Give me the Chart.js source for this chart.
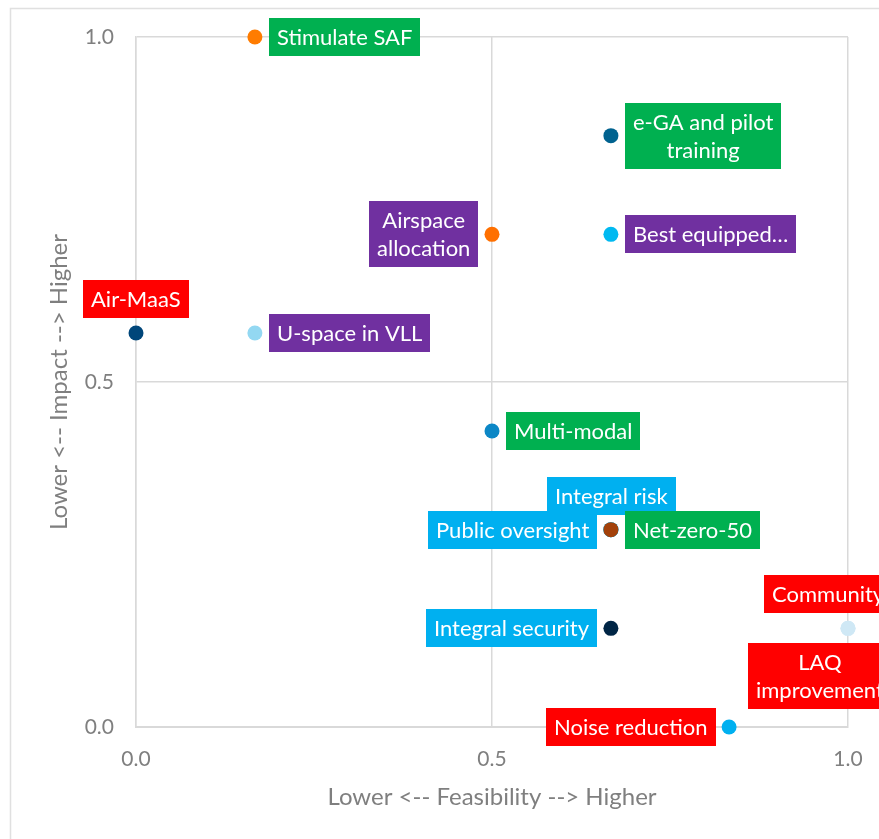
<!DOCTYPE html>
<html>
<head>
<meta charset="utf-8">
<title>Feasibility vs Impact</title>
<script src="https://cdn.jsdelivr.net/npm/chart.js@4/dist/chart.umd.min.js"></script>
<style>
  html, body { margin: 0; padding: 0; background: #ffffff; overflow: hidden; }
  canvas { display: block; }
</style>
</head>
<body>
<canvas id="chart" width="879" height="839"></canvas>
<script>
// Measures, with their feasibility (x) and impact (y) scores
const projects = [
  'Stimulate SAF',
  ['e-GA and pilot', 'training'],
  'Best equipped…',
  ['Airspace', 'allocation'],
  'Air-MaaS',
  'U-space in VLL',
  'Multi-modal',
  'Integral risk',
  'Public oversight',
  'Net-zero-50',
  'Integral security',
  ['LAQ', 'improvement'],
  'Community',
  'Noise reduction'
];
const feasibility = [0.167, 0.667, 0.667, 0.5, 0.0, 0.167, 0.5, 0.667, 0.667, 0.667, 0.667, 1.0, 1.0, 0.833];
const impact      = [1.0, 0.857, 0.714, 0.714, 0.571, 0.571, 0.429, 0.286, 0.286, 0.286, 0.143, 0.143, 0.143, 0.0];
const themes      = ['green', 'green', 'purple', 'purple', 'red', 'purple', 'green', 'blue', 'blue', 'green', 'blue', 'red', 'red', 'red'];

// Axis ticks
const tickValues = [0, 0.5, 1.0];
const tickLabels = ['0.0', '0.5', '1.0'];
const xTitle = 'Lower <-- Feasibility --> Higher';
const yTitle = 'Lower <-- Impact --> Higher';

// Styling
const pointColors = ['#ff7c00', '#00628f', '#00b9f1', '#ff7000', '#00467a', '#93d8f2', '#0c87c6',
                     '#00b0f0', '#00b0f0', '#a3410a', '#002545', '#cfe8f5', '#cfe8f5', '#00b0f0'];
const labelSides  = ['right', 'right', 'right', 'left', 'above', 'right', 'right', 'above', 'left',
                     'right', 'left', 'below', 'above', 'left'];
const themeFill = { green: '#00b050', purple: '#7030a0', red: '#ff0000', blue: '#00b0f0' };
const FONT_FAMILY = 'Lato, "Open Sans", sans-serif';
const LABEL_FONT = '22px ' + FONT_FAMILY;
const LABEL_PAD_X = 8, LABEL_PAD_Y = 5, LABEL_LINE = 28, LABEL_GAP = 14;
const LABEL_MAX_RIGHT = 892;   // labels are kept inside the chart frame
const GRID = '#d9d9d9';
const TEXT_GREY = '#7f7f7f';

// Light frame round the whole chart
const framePlugin = {
  id: 'frame',
  beforeDraw(chart) {
    const ctx = chart.ctx;
    ctx.save();
    ctx.fillStyle = '#ffffff';
    ctx.fillRect(0, 0, chart.width, chart.height);
    ctx.strokeStyle = '#e0e0e0';
    ctx.lineWidth = 1.5;
    ctx.strokeRect(10.5, 8.5, chart.width + 20, chart.height + 20);
    ctx.restore();
  }
};

// Coloured text boxes beside each point
const boxLabelPlugin = {
  id: 'boxLabels',
  afterDatasetsDraw(chart) {
    const ctx = chart.ctx;
    const meta = chart.getDatasetMeta(0);
    ctx.save();
    ctx.font = LABEL_FONT;
    ctx.textAlign = 'center';
    ctx.textBaseline = 'middle';
    meta.data.forEach((pt, i) => {
      const lines = [].concat(projects[i]);
      const w = Math.max(...lines.map(l => ctx.measureText(l).width)) + 2 * LABEL_PAD_X;
      const h = lines.length * LABEL_LINE + 2 * LABEL_PAD_Y;
      let x, y;
      switch (labelSides[i]) {
        case 'right': x = pt.x + LABEL_GAP; y = pt.y - h / 2; break;
        case 'left':  x = pt.x - LABEL_GAP - w; y = pt.y - h / 2; break;
        case 'above': x = pt.x - w / 2; y = pt.y - LABEL_GAP - 1 - h; break;
        default:      x = pt.x - w / 2; y = pt.y + LABEL_GAP + 1; break;
      }
      x = Math.min(x, LABEL_MAX_RIGHT - w);
      ctx.fillStyle = themeFill[themes[i]];
      ctx.fillRect(Math.round(x), Math.round(y), Math.round(w), Math.round(h));
      ctx.fillStyle = '#ffffff';
      lines.forEach((line, k) => {
        ctx.fillText(line, Math.round(x) + w / 2, Math.round(y) + LABEL_PAD_Y + LABEL_LINE * (k + 0.5) + 1);
      });
    });
    ctx.restore();
  }
};

const points = feasibility.map((fx, i) => ({ x: fx, y: impact[i] }));

new Chart(document.getElementById('chart'), {
  type: 'scatter',
  data: {
    datasets: [{
      data: points,
      backgroundColor: pointColors,
      borderWidth: 0,
      pointRadius: 7.5,
      pointHoverRadius: 7.5,
      clip: false
    }]
  },
  options: {
    responsive: false,
    animation: false,
    events: [],
    layout: { padding: { left: 0, top: 37, right: 31, bottom: 0 } },
    plugins: {
      legend: { display: false },
      tooltip: { enabled: false }
    },
    scales: {
      x: {
        type: 'linear',
        min: 0, max: 1,
        afterBuildTicks: s => { s.ticks = tickValues.map(v => ({ value: v })); },
        afterFit: s => { s.height = 112; s.paddingLeft = 0; s.paddingRight = 0; },
        ticks: {
          callback: (v) => tickLabels[tickValues.indexOf(v)],
          color: TEXT_GREY,
          font: { family: FONT_FAMILY, size: 21 },
          padding: 20,
          maxRotation: 0
        },
        grid: { color: GRID, lineWidth: 1.5, drawTicks: false },
        border: { color: GRID, width: 2 },
        title: {
          display: true,
          text: xTitle,
          color: TEXT_GREY,
          font: { family: FONT_FAMILY, size: 24 },
          padding: { top: 0, bottom: 27 }
        }
      },
      y: {
        type: 'linear',
        min: 0, max: 1,
        afterBuildTicks: s => { s.ticks = tickValues.map(v => ({ value: v })); },
        afterFit: s => { s.width = 136; s.paddingTop = 0; s.paddingBottom = 0; },
        ticks: {
          callback: (v) => tickLabels[tickValues.indexOf(v)],
          color: TEXT_GREY,
          font: { family: FONT_FAMILY, size: 21 },
          padding: 22
        },
        grid: { color: GRID, lineWidth: 1.5, drawTicks: false },
        border: { color: GRID, width: 1.5 },
        title: {
          display: true,
          text: yTitle,
          color: TEXT_GREY,
          font: { family: FONT_FAMILY, size: 24 },
          padding: { top: 45, bottom: 0 }
        }
      }
    }
  },
  plugins: [framePlugin, boxLabelPlugin]
});
</script>
</body>
</html>
